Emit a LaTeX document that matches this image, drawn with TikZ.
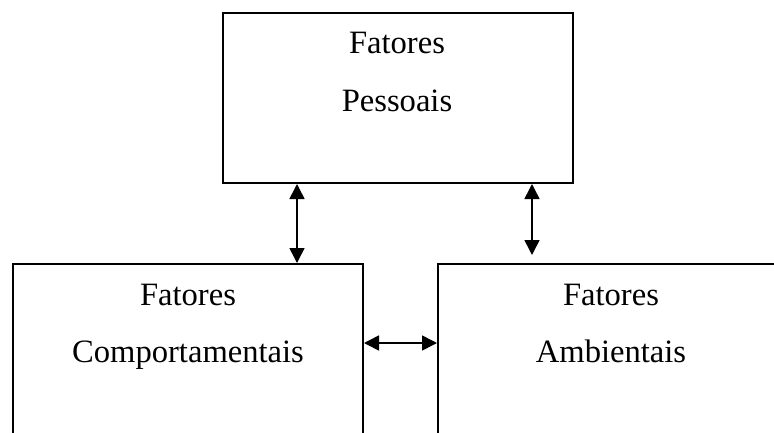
\documentclass[tikz,border=0pt]{standalone}
\usepackage{fontspec}
\setmainfont{Liberation Serif}
\usetikzlibrary{arrows.meta}
\begin{document}
\begin{tikzpicture}[x=1pt,y=-1pt,
  box/.style={draw,line width=2pt,rectangle,inner sep=0pt,anchor=north west},
  lbl/.style={anchor=base,inner sep=0pt,font=\fontsize{32.6}{32.6}\selectfont},
  arr/.style={{Triangle[length=15pt,width=15pt]}-{Triangle[length=15pt,width=15pt]},line width=1.6pt}]
\useasboundingbox (0,0) rectangle (774,432);
\clip (0,0) rectangle (774,432);
\node[box,minimum width=350pt,minimum height=170pt] (pess) at (222,12) {};
\node[box,minimum width=350pt,minimum height=220pt] (comp) at (12,263) {};
\node[box,minimum width=348pt,minimum height=220pt] (amb) at (437,263) {};
\node[lbl] (t1) at (397,53) {Fatores};
\node[lbl] (t2) at (397,111) {Pessoais};
\node[lbl] (t3) at (188,305) {Fatores};
\node[lbl] (t4) at (188,362) {Comportamentais};
\node[lbl] (t5) at (611,305) {Fatores};
\node[lbl] (t6) at (611,362) {Ambientais};
\coordinate (c1) at (297,0);
\coordinate (c2) at (532,0);
\coordinate (c3) at (0,343);
\draw[arr] (pess.south -| c1) -- (comp.north -| c1);
\draw[arr,shorten >=8pt] (pess.south -| c2) -- (amb.north -| c2);
\draw[arr] (comp.east |- c3) -- (amb.west |- c3);
\end{tikzpicture}
\end{document}
